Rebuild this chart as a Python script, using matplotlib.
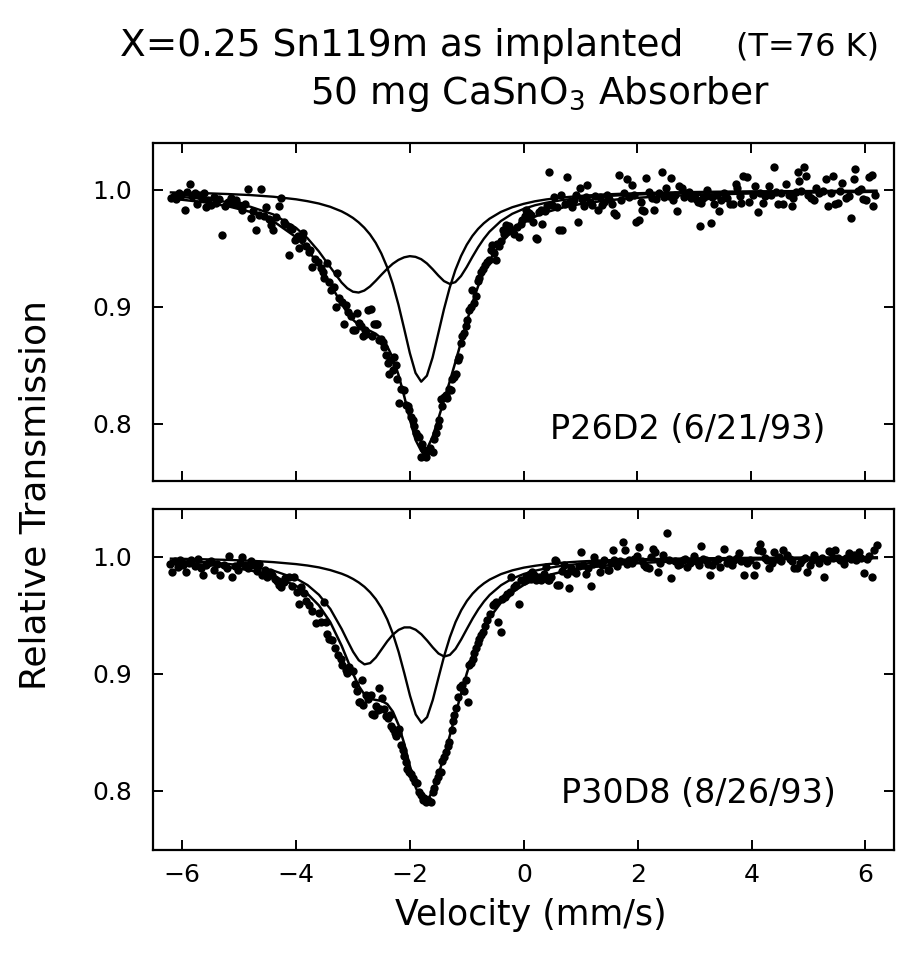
import matplotlib
matplotlib.use("Agg")
import matplotlib.pyplot as plt

# ---------------- fitted curves ----------------
fit_velocity = [-6.2, -6.0, -5.6, -5.2, -4.8, -4.4, -4.0, -3.8, -3.6, -3.4, -3.2,
                -3.1, -3.0, -2.9, -2.8, -2.7, -2.6, -2.5, -2.4, -2.3, -2.2, -2.1,
                -2.0, -1.9, -1.8, -1.7, -1.6, -1.5, -1.4, -1.3, -1.2, -1.1, -1.0,
                -0.9, -0.8, -0.7, -0.6, -0.4, -0.2, 0.0, 0.2, 0.4, 0.7, 1.0, 1.4,
                1.8, 2.3, 2.8, 3.4, 4.0, 4.7, 5.4, 6.0, 6.2]

top_single = [0.9979, 0.9977, 0.9972, 0.9965, 0.9956, 0.9942, 0.9920, 0.9904, 0.9884, 0.9856, 0.9817,
              0.9791, 0.9761, 0.9723, 0.9677, 0.9620, 0.9548, 0.9456, 0.9341, 0.9196, 0.9019, 0.8815,
              0.8606, 0.8436, 0.8361, 0.8412, 0.8567, 0.8773, 0.8980, 0.9163, 0.9315, 0.9435, 0.9531,
              0.9607, 0.9667, 0.9715, 0.9754, 0.9812, 0.9852, 0.9881, 0.9903, 0.9919, 0.9936, 0.9949, 0.9961,
              0.9969, 0.9976, 0.9981, 0.9985, 0.9988, 0.9990, 0.9992, 0.9993, 0.9994]
top_doublet = [0.9945, 0.9939, 0.9922, 0.9896, 0.9856, 0.9791, 0.9676, 0.9588, 0.9475, 0.9341, 0.9209,
               0.9160, 0.9130, 0.9123, 0.9140, 0.9175, 0.9223, 0.9275, 0.9325, 0.9369, 0.9402, 0.9424,
               0.9434, 0.9428, 0.9408, 0.9372, 0.9323, 0.9269, 0.9221, 0.9197, 0.9212, 0.9264, 0.9341,
               0.9428, 0.9510, 0.9582, 0.9643, 0.9734, 0.9796, 0.9838, 0.9869, 0.9891, 0.9915, 0.9931, 0.9946,
               0.9957, 0.9966, 0.9973, 0.9978, 0.9982, 0.9986, 0.9988, 0.9990, 0.9990]
top_total = [0.9924, 0.9916, 0.9894, 0.9861, 0.9812, 0.9733, 0.9596, 0.9492, 0.9359, 0.9197, 0.9026,
             0.8951, 0.8891, 0.8846, 0.8817, 0.8795, 0.8771, 0.8731, 0.8666, 0.8565, 0.8421, 0.8239,
             0.8040, 0.7864, 0.7769, 0.7784, 0.7890, 0.8042, 0.8201, 0.8360, 0.8527, 0.8699, 0.8872,
             0.9035, 0.9177, 0.9297, 0.9397, 0.9546, 0.9648, 0.9719, 0.9772, 0.9810, 0.9851, 0.9880, 0.9907,
             0.9926, 0.9942, 0.9954, 0.9963, 0.9970, 0.9976, 0.9980, 0.9983, 0.9984]

bottom_single = [0.9984, 0.9982, 0.9978, 0.9973, 0.9966, 0.9954, 0.9937, 0.9925, 0.9909, 0.9886, 0.9855,
                 0.9835, 0.9810, 0.9780, 0.9743, 0.9696, 0.9637, 0.9561, 0.9464, 0.9340, 0.9186, 0.9004,
                 0.8812, 0.8652, 0.8581, 0.8629, 0.8776, 0.8966, 0.9152, 0.9312, 0.9442, 0.9543, 0.9623,
                 0.9685, 0.9734, 0.9773, 0.9805, 0.9852, 0.9884, 0.9907, 0.9923, 0.9936, 0.9950, 0.9960, 0.9969,
                 0.9976, 0.9981, 0.9985, 0.9988, 0.9991, 0.9992, 0.9994, 0.9995, 0.9995]
bottom_doublet = [0.9967, 0.9963, 0.9954, 0.9939, 0.9917, 0.9881, 0.9814, 0.9758, 0.9675, 0.9554, 0.9382,
                  0.9283, 0.9188, 0.9115, 0.9080, 0.9091, 0.9139, 0.9208, 0.9277, 0.9335, 0.9375, 0.9396,
                  0.9396, 0.9376, 0.9337, 0.9284, 0.9225, 0.9173, 0.9147, 0.9161, 0.9213, 0.9294, 0.9384,
                  0.9472, 0.9551, 0.9618, 0.9674, 0.9757, 0.9814, 0.9853, 0.9881, 0.9902, 0.9925, 0.9940, 0.9954,
                  0.9964, 0.9972, 0.9978, 0.9982, 0.9986, 0.9989, 0.9991, 0.9992, 0.9992]
bottom_total = [0.9951, 0.9945, 0.9932, 0.9912, 0.9883, 0.9835, 0.9751, 0.9683, 0.9584, 0.9440, 0.9238,
                0.9118, 0.8999, 0.8895, 0.8822, 0.8786, 0.8776, 0.8768, 0.8741, 0.8675, 0.8561, 0.8400,
                0.8208, 0.8028, 0.7918, 0.7913, 0.8000, 0.8139, 0.8299, 0.8473, 0.8655, 0.8837, 0.9007,
                0.9158, 0.9285, 0.9391, 0.9479, 0.9609, 0.9697, 0.9760, 0.9805, 0.9839, 0.9875, 0.9900, 0.9923,
                0.9939, 0.9953, 0.9962, 0.9971, 0.9976, 0.9981, 0.9985, 0.9987, 0.9988]

top_velocity = [
    -6.20, -6.15, -6.11, -6.05, -6.02, -5.96, -5.92, -5.87, -5.83, -5.78, -5.74, -5.70, -5.66, -5.62,
    -5.58, -5.54, -5.50, -5.45, -5.40, -5.35, -5.30, -5.25, -5.20, -5.15, -5.10, -5.05, -5.00, -4.95,
    -4.90, -4.85, -4.80, -4.75, -4.71, -4.66, -4.61, -4.57, -4.53, -4.48, -4.44, -4.40, -4.35, -4.30,
    -4.27, -4.22, -4.19, -4.13, -4.10, -4.07, -4.01, -3.97, -3.95, -3.90, -3.87, -3.82, -3.78, -3.75,
    -3.72, -3.67, -3.62, -3.56, -3.52, -3.50, -3.45, -3.42, -3.39, -3.33, -3.30, -3.28, -3.24, -3.19,
    -3.15, -3.13, -3.08, -3.04, -3.00, -2.96, -2.93, -2.90, -2.86, -2.83, -2.79, -2.77, -2.73, -2.69,
    -2.66, -2.63, -2.60, -2.57, -2.54, -2.51, -2.48, -2.45, -2.42, -2.39, -2.37, -2.34, -2.30, -2.28,
    -2.25, -2.22, -2.19, -2.15, -2.10, -2.07, -2.04, -2.01, -1.98, -1.95, -1.92, -1.89, -1.86, -1.84,
    -1.81, -1.78, -1.75, -1.72, -1.69, -1.64, -1.60, -1.57, -1.54, -1.51, -1.49, -1.46, -1.43, -1.40,
    -1.37, -1.34, -1.31, -1.28, -1.25, -1.22, -1.19, -1.16, -1.13, -1.10, -1.08, -1.05, -1.02, -0.99,
    -0.96, -0.93, -0.90, -0.87, -0.84, -0.81, -0.78, -0.75, -0.72, -0.68, -0.64, -0.61, -0.58, -0.55,
    -0.52, -0.49, -0.46, -0.43, -0.40, -0.37, -0.34, -0.31, -0.28, -0.25, -0.21, -0.17, -0.12, -0.08,
    -0.05, -0.02, 0.02, 0.04, 0.07, 0.10, 0.13, 0.17, 0.21, 0.24, 0.27, 0.30, 0.33, 0.37,
    0.41, 0.45, 0.50, 0.54, 0.58, 0.62, 0.65, 0.68, 0.72, 0.77, 0.81, 0.85, 0.89, 0.92,
    0.95, 1.00, 1.03, 1.06, 1.09, 1.12, 1.16, 1.20, 1.25, 1.30, 1.34, 1.38, 1.42, 1.47,
    1.51, 1.55, 1.59, 1.62, 1.68, 1.72, 1.77, 1.82, 1.86, 1.91, 1.94, 1.97, 2.03, 2.06,
    2.09, 2.12, 2.15, 2.20, 2.25, 2.29, 2.33, 2.38, 2.44, 2.47, 2.50, 2.55, 2.59, 2.62,
    2.66, 2.69, 2.74, 2.78, 2.82, 2.86, 2.91, 2.95, 2.99, 3.03, 3.07, 3.10, 3.11, 3.16,
    3.20, 3.23, 3.29, 3.32, 3.35, 3.40, 3.43, 3.47, 3.52, 3.57, 3.62, 3.68, 3.73, 3.76,
    3.80, 3.82, 3.85, 3.92, 3.97, 4.03, 4.06, 4.12, 4.16, 4.20, 4.25, 4.32, 4.35, 4.41,
    4.44, 4.47, 4.52, 4.56, 4.62, 4.66, 4.71, 4.73, 4.78, 4.82, 4.84, 4.87, 4.93, 4.96,
    5.00, 5.05, 5.11, 5.14, 5.20, 5.26, 5.32, 5.35, 5.40, 5.44, 5.47, 5.52, 5.56, 5.60,
    5.66, 5.72, 5.75, 5.80, 5.83, 5.88, 5.93, 5.96, 6.02, 6.08, 6.12, 6.15, 6.17]
top_transmission = [
    0.993, 0.995, 0.992, 0.997, 0.996, 0.983, 0.998, 1.005, 0.995, 0.997, 0.988, 0.996, 0.993, 0.997,
    0.985, 0.991, 0.987, 0.994, 0.989, 0.992, 0.9615, 0.986, 0.990, 0.993, 0.989, 0.991, 0.987, 0.983,
    0.988, 1.001, 0.976, 0.982, 0.966, 0.979, 1.0005, 0.978, 0.985, 0.975, 0.970, 0.966, 0.977, 0.986,
    0.993, 0.973, 0.971, 0.944, 0.968, 0.967, 0.957, 0.961, 0.950, 0.958, 0.963, 0.952, 0.947, 0.949,
    0.934, 0.941, 0.938, 0.933, 0.930, 0.9245, 0.9376, 0.921, 0.9145, 0.917, 0.900, 0.929, 0.908, 0.904,
    0.885, 0.902, 0.896, 0.892, 0.880, 0.880, 0.895, 0.886, 0.884, 0.875, 0.880, 0.877, 0.897, 0.898,
    0.875, 0.885, 0.885, 0.885, 0.872, 0.873, 0.870, 0.866, 0.859, 0.852, 0.843, 0.855, 0.846, 0.857,
    0.850, 0.838, 0.818, 0.830, 0.829, 0.816, 0.815, 0.812, 0.806, 0.803, 0.798, 0.792, 0.790, 0.789,
    0.772, 0.783, 0.778, 0.772, 0.777, 0.779, 0.776, 0.787, 0.792, 0.798, 0.803, 0.821, 0.815, 0.823,
    0.825, 0.822, 0.830, 0.829, 0.838, 0.840, 0.843, 0.855, 0.857, 0.869, 0.875, 0.878, 0.884, 0.889,
    0.897, 0.900, 0.9145, 0.903, 0.909, 0.922, 0.925, 0.930, 0.932, 0.936, 0.938, 0.940, 0.9487, 0.953,
    0.946, 0.940, 0.954, 0.952, 0.956, 0.966, 0.962, 0.970, 0.965, 0.969, 0.966, 0.962, 0.968, 0.960,
    0.971, 0.974, 0.978, 0.983, 0.976, 0.980, 0.979, 0.973, 0.959, 0.958, 0.981, 0.983, 0.971, 0.982,
    0.986, 1.015, 0.987, 0.994, 0.985, 0.966, 0.996, 0.966, 0.988, 1.011, 0.990, 0.985, 0.991, 0.996,
    0.973, 1.0015, 0.992, 0.986, 0.994, 1.004, 0.990, 0.987, 0.995, 0.983, 0.994, 0.987, 0.990, 0.996,
    0.992, 0.988, 0.980, 0.979, 1.013, 0.991, 0.997, 1.009, 0.994, 1.004, 0.996, 0.973, 0.974, 0.990,
    0.983, 0.982, 1.010, 0.998, 0.993, 0.983, 0.992, 0.997, 1.015, 0.994, 1.002, 0.995, 1.010, 0.991,
    0.996, 0.982, 1.003, 1.002, 0.994, 0.997, 0.998, 0.993, 0.995, 0.992, 0.990, 0.969, 0.989, 0.993,
    0.995, 1.000, 0.972, 0.994, 0.988, 0.996, 0.982, 0.991, 0.997, 0.993, 0.988, 0.988, 1.005, 1.002,
    0.995, 0.989, 1.012, 1.011, 0.990, 0.996, 1.003, 0.981, 0.997, 0.989, 0.995, 1.003, 0.996, 1.020,
    0.998, 0.988, 0.997, 0.988, 1.005, 0.996, 0.986, 0.993, 0.998, 1.015, 1.008, 0.999, 1.020, 1.012,
    0.996, 0.993, 0.991, 1.002, 0.997, 0.999, 1.009, 0.986, 0.997, 1.012, 0.988, 0.989, 0.999, 1.006,
    0.993, 0.995, 0.976, 1.009, 1.018, 0.999, 1.001, 0.992, 0.991, 1.011, 1.013, 0.986, 0.996]

bottom_velocity = [
    -6.22, -6.18, -6.13, -6.08, -6.04, -5.98, -5.93, -5.88, -5.84, -5.78, -5.73, -5.68, -5.64, -5.58,
    -5.54, -5.50, -5.44, -5.39, -5.33, -5.27, -5.22, -5.18, -5.12, -5.08, -5.03, -4.99, -4.95, -4.89,
    -4.84, -4.80, -4.74, -4.69, -4.65, -4.60, -4.55, -4.51, -4.46, -4.42, -4.37, -4.33, -4.30, -4.27,
    -4.22, -4.19, -4.13, -4.08, -4.04, -3.99, -3.95, -3.92, -3.86, -3.82, -3.78, -3.72, -3.66, -3.60,
    -3.57, -3.51, -3.48, -3.45, -3.42, -3.37, -3.32, -3.27, -3.22, -3.19, -3.13, -3.10, -3.07, -3.01,
    -2.97, -2.93, -2.89, -2.87, -2.84, -2.83, -2.78, -2.74, -2.69, -2.66, -2.63, -2.60, -2.57, -2.54,
    -2.52, -2.49, -2.46, -2.43, -2.39, -2.36, -2.33, -2.30, -2.27, -2.24, -2.21, -2.19, -2.16, -2.13,
    -2.10, -2.07, -2.05, -2.02, -1.98, -1.95, -1.92, -1.87, -1.84, -1.81, -1.78, -1.75, -1.72, -1.68,
    -1.63, -1.60, -1.57, -1.54, -1.51, -1.49, -1.46, -1.43, -1.40, -1.37, -1.34, -1.31, -1.27, -1.24,
    -1.22, -1.19, -1.16, -1.13, -1.08, -1.05, -1.02, -0.99, -0.96, -0.93, -0.90, -0.87, -0.84, -0.81,
    -0.78, -0.75, -0.72, -0.68, -0.64, -0.60, -0.55, -0.52, -0.49, -0.46, -0.41, -0.38, -0.34, -0.30,
    -0.25, -0.22, -0.17, -0.13, -0.08, -0.05, 0.00, 0.04, 0.07, 0.10, 0.13, 0.15, 0.18, 0.22,
    0.27, 0.30, 0.35, 0.39, 0.42, 0.45, 0.48, 0.54, 0.57, 0.59, 0.62, 0.67, 0.71, 0.75,
    0.80, 0.83, 0.87, 0.92, 0.96, 1.00, 1.04, 1.09, 1.13, 1.18, 1.21, 1.24, 1.28, 1.33,
    1.37, 1.41, 1.47, 1.50, 1.53, 1.56, 1.59, 1.63, 1.68, 1.74, 1.77, 1.81, 1.85, 1.90,
    1.94, 1.98, 2.03, 2.07, 2.11, 2.15, 2.20, 2.24, 2.27, 2.30, 2.35, 2.40, 2.45, 2.51,
    2.55, 2.59, 2.65, 2.70, 2.74, 2.79, 2.83, 2.86, 2.91, 2.98, 3.03, 3.08, 3.12, 3.15,
    3.20, 3.24, 3.27, 3.31, 3.36, 3.41, 3.45, 3.51, 3.56, 3.60, 3.65, 3.69, 3.74, 3.78,
    3.82, 3.86, 3.92, 3.98, 4.04, 4.08, 4.12, 4.15, 4.18, 4.23, 4.27, 4.30, 4.35, 4.39,
    4.44, 4.48, 4.52, 4.56, 4.62, 4.67, 4.71, 4.75, 4.80, 4.85, 4.89, 4.94, 4.98, 5.02,
    5.06, 5.09, 5.14, 5.19, 5.23, 5.27, 5.32, 5.36, 5.39, 5.43, 5.47, 5.52, 5.56, 5.62,
    5.66, 5.71, 5.75, 5.80, 5.84, 5.88, 5.93, 5.97, 6.03, 6.07, 6.12, 6.15, 6.21]
bottom_transmission = [
    0.994, 0.987, 0.996, 0.991, 0.997, 0.993, 0.987, 0.995, 0.997, 0.992, 0.9985, 0.990, 0.984, 0.993,
    0.995, 0.996, 0.989, 0.994, 0.984, 0.993, 0.990, 1.001, 0.983, 0.992, 0.989, 0.995, 1.000, 0.993,
    0.990, 0.996, 0.993, 0.988, 0.994, 0.984, 0.989, 0.983, 0.987, 0.984, 0.981, 0.979, 0.976, 0.974,
    0.978, 0.9815, 0.983, 0.975, 0.983, 0.970, 0.960, 0.974, 0.969, 0.962, 0.959, 0.954, 0.943, 0.952,
    0.944, 0.9615, 0.944, 0.934, 0.930, 0.929, 0.922, 0.916, 0.913, 0.9075, 0.903, 0.901, 0.906, 0.902,
    0.891, 0.885, 0.876, 0.876, 0.895, 0.873, 0.882, 0.878, 0.882, 0.866, 0.865, 0.872, 0.869, 0.8875,
    0.870, 0.879, 0.870, 0.864, 0.862, 0.865, 0.855, 0.853, 0.849, 0.847, 0.849, 0.853, 0.839, 0.835,
    0.830, 0.8248, 0.819, 0.816, 0.814, 0.8106, 0.8077, 0.8063, 0.7991, 0.796, 0.792, 0.794, 0.7906, 0.792,
    0.7906, 0.799, 0.802, 0.808, 0.812, 0.816, 0.816, 0.825, 0.829, 0.833, 0.838, 0.842, 0.852, 0.860,
    0.865, 0.871, 0.880, 0.889, 0.890, 0.885, 0.895, 0.876, 0.9075, 0.909, 0.913, 0.918, 0.922, 0.926,
    0.930, 0.933, 0.936, 0.941, 0.946, 0.951, 0.959, 0.960, 0.9615, 0.944, 0.936, 0.964, 0.966, 0.968,
    0.970, 0.983, 0.974, 0.976, 0.960, 0.980, 0.979, 0.983, 0.983, 0.985, 0.981, 0.987, 0.984, 0.980,
    0.983, 0.980, 0.985, 0.9915, 0.980, 0.980, 0.983, 0.997, 0.996, 0.976, 0.976, 0.988, 0.993, 0.985,
    0.973, 0.990, 0.988, 0.986, 0.992, 1.004, 0.993, 0.985, 0.990, 0.975, 0.994, 1.000, 0.995, 0.987,
    0.993, 0.997, 0.989, 0.989, 0.995, 1.006, 0.997, 0.992, 0.996, 1.013, 1.006, 0.994, 0.997, 0.995,
    0.9985, 1.001, 1.008, 0.996, 0.993, 0.991, 0.990, 1.000, 1.007, 1.004, 0.987, 0.995, 1.0015, 1.020,
    0.997, 0.9815, 0.996, 0.993, 0.994, 0.997, 0.9985, 0.991, 0.995, 1.001, 0.996, 0.993, 1.009, 0.9985,
    0.997, 0.994, 0.984, 0.993, 0.996, 0.998, 0.991, 1.007, 0.995, 0.9985, 0.993, 0.997, 0.999, 1.003,
    0.996, 0.984, 0.995, 0.997, 0.984, 0.993, 1.006, 1.011, 1.005, 0.999, 0.997, 0.990, 0.995, 1.004,
    0.998, 1.000, 0.996, 1.006, 1.0015, 0.998, 0.996, 0.990, 0.990, 0.995, 0.997, 0.999, 0.987, 0.993,
    0.997, 1.0015, 0.998, 0.995, 0.999, 0.983, 0.996, 1.005, 1.004, 0.999, 1.006, 0.999, 0.997, 0.994,
    0.999, 1.003, 0.998, 1.0015, 0.997, 1.004, 0.999, 0.986, 0.9985, 1.001, 0.983, 1.006, 1.010]

# ---------------- axes / text ----------------
x_ticks = [-6, -4, -2, 0, 2, 4, 6]
y_ticks = [0.8, 0.9, 1.0]
y_tick_labels = ["0.8", "0.9", "1.0"]
title_line1 = "X=0.25 Sn119m as implanted"
title_temp = "(T=76 K)"
title_line2 = r"50 mg CaSnO$_3$ Absorber"
x_label = "Velocity (mm/s)"
y_label = "Relative Transmission"
top_tag = "P26D2 (6/21/93)"
bottom_tag = "P30D8 (8/26/93)"

plt.rcParams["font.family"] = ["DejaVu Sans"]
plt.rcParams["mathtext.fontset"] = "dejavusans"

fig = plt.figure(figsize=(9.08, 9.55), dpi=100)
ax_top = fig.add_axes([0.1688, 0.4967, 0.8157, 0.3539])
ax_bot = fig.add_axes([0.1688, 0.1099, 0.8163, 0.3571])

panels = [
    (ax_top, top_velocity, top_transmission, top_single, top_doublet, top_total,
     (0.7515, 1.0404), top_tag, (2.89, 0.795)),
    (ax_bot, bottom_velocity, bottom_transmission, bottom_single, bottom_doublet, bottom_total,
     (0.7493, 1.0408), bottom_tag, (3.06, 0.798)),
]

for ax, vx, ty, s_fit, d_fit, t_fit, ylim, tag, tagpos in panels:
    ax.plot(vx, ty, linestyle="none", marker="o", markersize=6.0,
            color="black", markeredgewidth=0)
    ax.plot(fit_velocity, s_fit, color="black", lw=1.7)
    ax.plot(fit_velocity, d_fit, color="black", lw=1.7)
    ax.plot(fit_velocity, t_fit, color="black", lw=1.8)
    ax.set_xlim(-6.51, 6.51)
    ax.set_ylim(*ylim)
    ax.set_xticks(x_ticks)
    ax.set_yticks(y_ticks)
    ax.set_yticklabels(y_tick_labels)
    ax.tick_params(direction="in", length=7.5, width=1.4, top=True, right=True,
                   labelsize=18, pad=9)
    ax.tick_params(axis="y", pad=15)
    for sp in ax.spines.values():
        sp.set_linewidth(1.6)
    ax.text(tagpos[0], tagpos[1], tag, ha="center", va="center", fontsize=24)

ax_top.tick_params(axis="x", labelbottom=False)

fig.text(120 / 908, 1 - 56 / 955, title_line1, ha="left", va="baseline", fontsize=27)
fig.text(808 / 908, 1 - 56 / 955, title_temp, ha="center", va="baseline", fontsize=23)
fig.text(540 / 908, 1 - 104 / 955, title_line2, ha="center", va="baseline", fontsize=27)
fig.text(531 / 908, 1 - 915 / 955, x_label, ha="center", va="center", fontsize=25)
fig.text(36 / 908, 1 - 495 / 955, y_label, ha="center", va="center", rotation=90, fontsize=26)

fig.savefig("out.png", dpi=100)
